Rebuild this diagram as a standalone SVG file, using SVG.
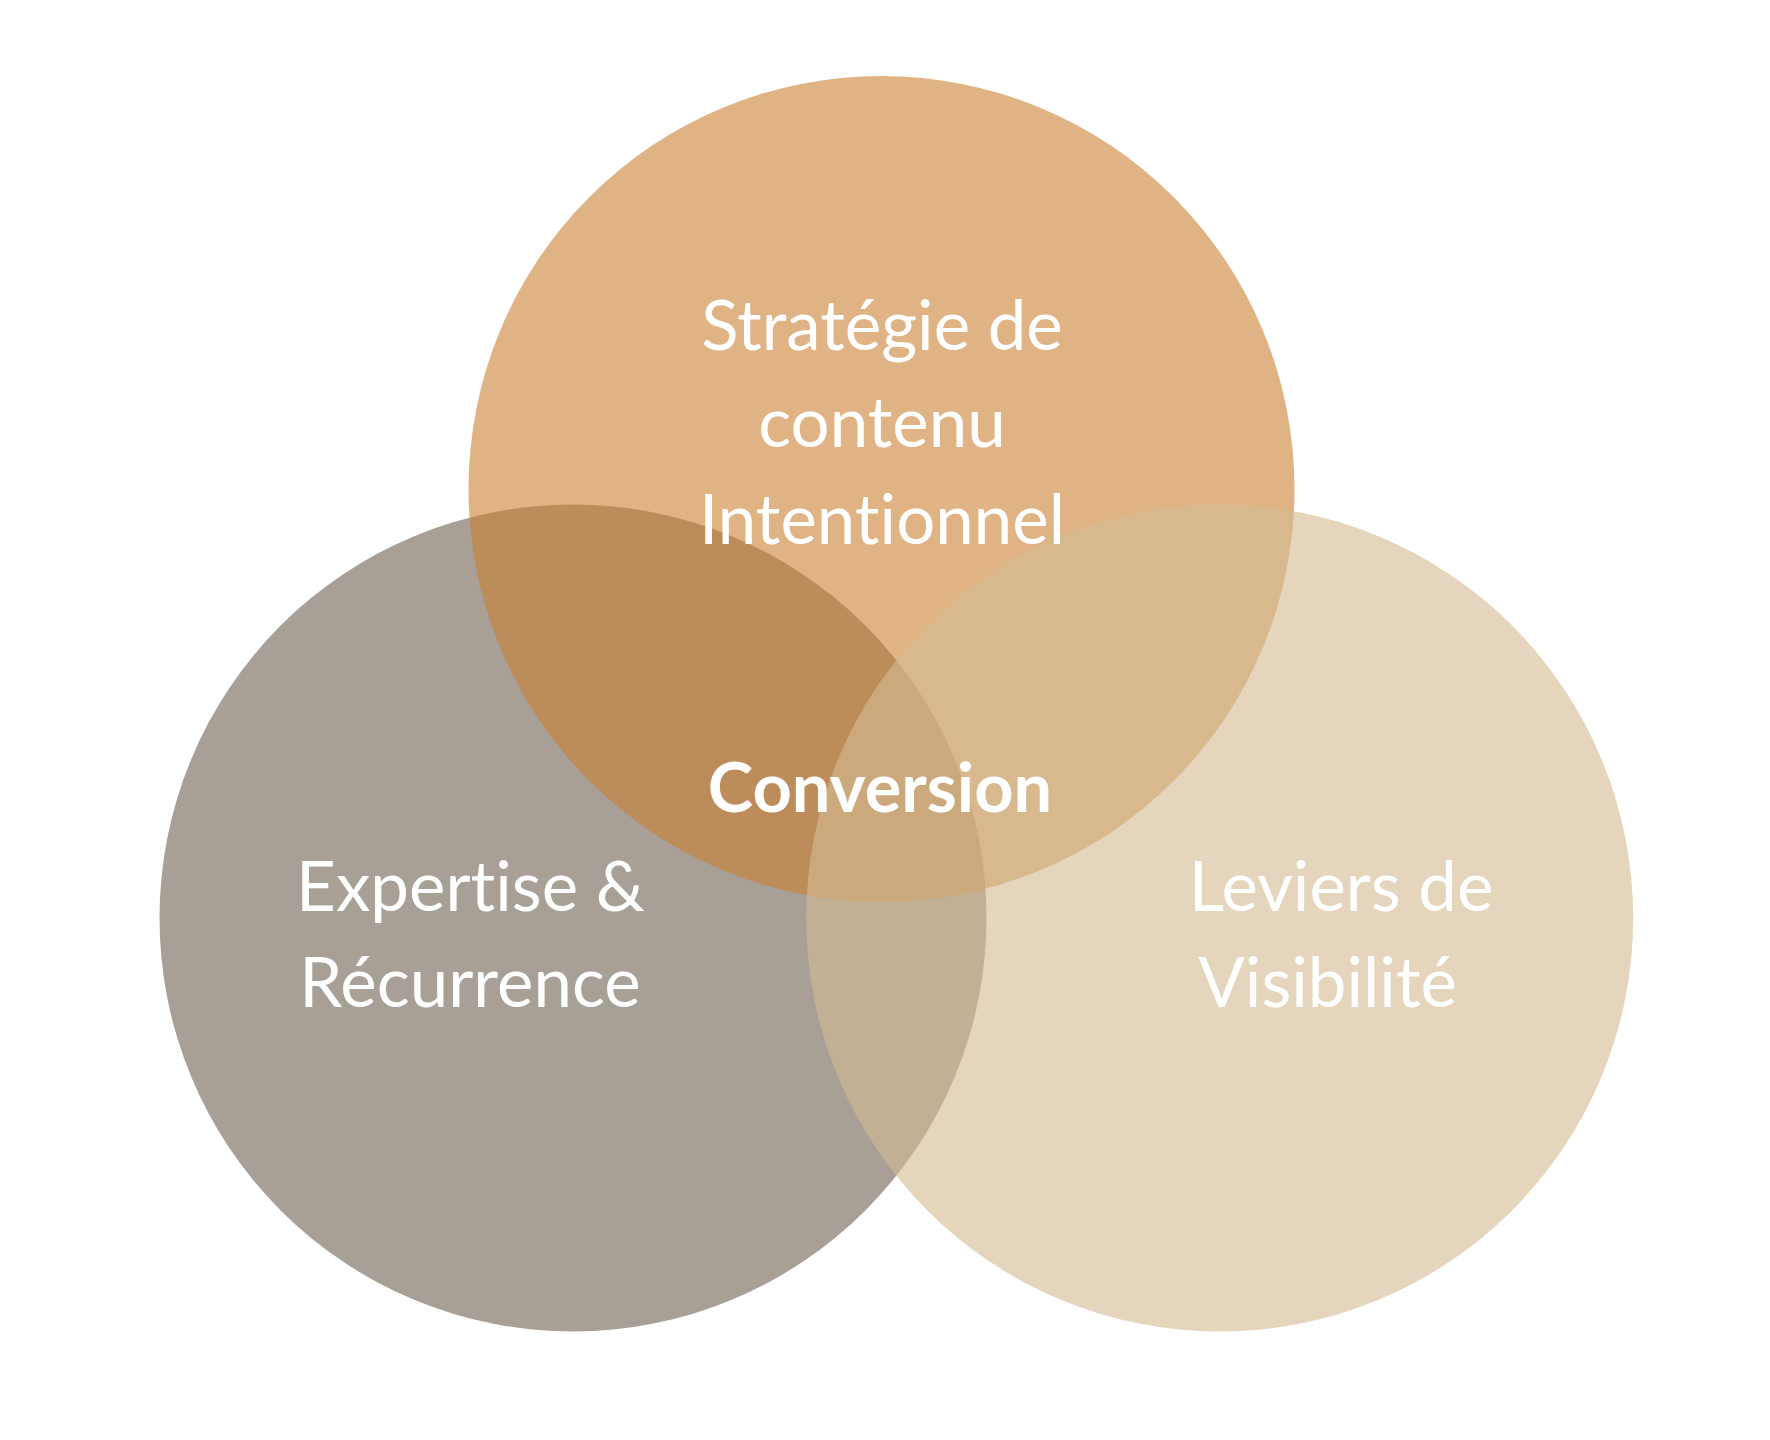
<svg xmlns="http://www.w3.org/2000/svg" width="1770" height="1440" viewBox="0 0 1770 1440">
<style>
.lbl{font-family:Lato,"Open Sans","Liberation Sans",sans-serif;font-size:69px;fill:#ffffff;text-anchor:middle;font-variant-ligatures:none;font-feature-settings:"liga" 0,"clig" 0,"dlig" 0}
.bold{font-weight:700;font-size:68.5px}
</style>
<rect width="1770" height="1440" fill="#ffffff"/>
<g id="circle-expertise">
<circle cx="573" cy="918" r="413.5" fill="#a89f96"/>
</g>
<g id="circle-strategie">
<circle cx="881.5" cy="489" r="413" fill="rgb(203,128,52)" fill-opacity="0.6"/>
</g>
<g id="circle-leviers">
<circle cx="1219.7" cy="918" r="413.5" fill="rgb(211,187,147)" fill-opacity="0.62"/>
</g>
<g id="connectors"></g>
<g id="label-strategie">
<text class="lbl" x="882" y="350">Stratégie de</text>
<text class="lbl" x="882" y="447">contenu</text>
<text class="lbl" x="882" y="544">Intentionnel</text>
</g>
<g id="label-conversion">
<text class="lbl bold" x="880" y="812">Conversion</text>
</g>
<g id="label-expertise">
<text class="lbl" x="470.5" y="911">Expertise &amp;</text>
<text class="lbl" x="470" y="1007">Récurrence</text>
</g>
<g id="label-leviers">
<text class="lbl" x="1341" y="911">Leviers de</text>
<text class="lbl" x="1327.5" y="1007">Visibilité</text>
</g>
</svg>
